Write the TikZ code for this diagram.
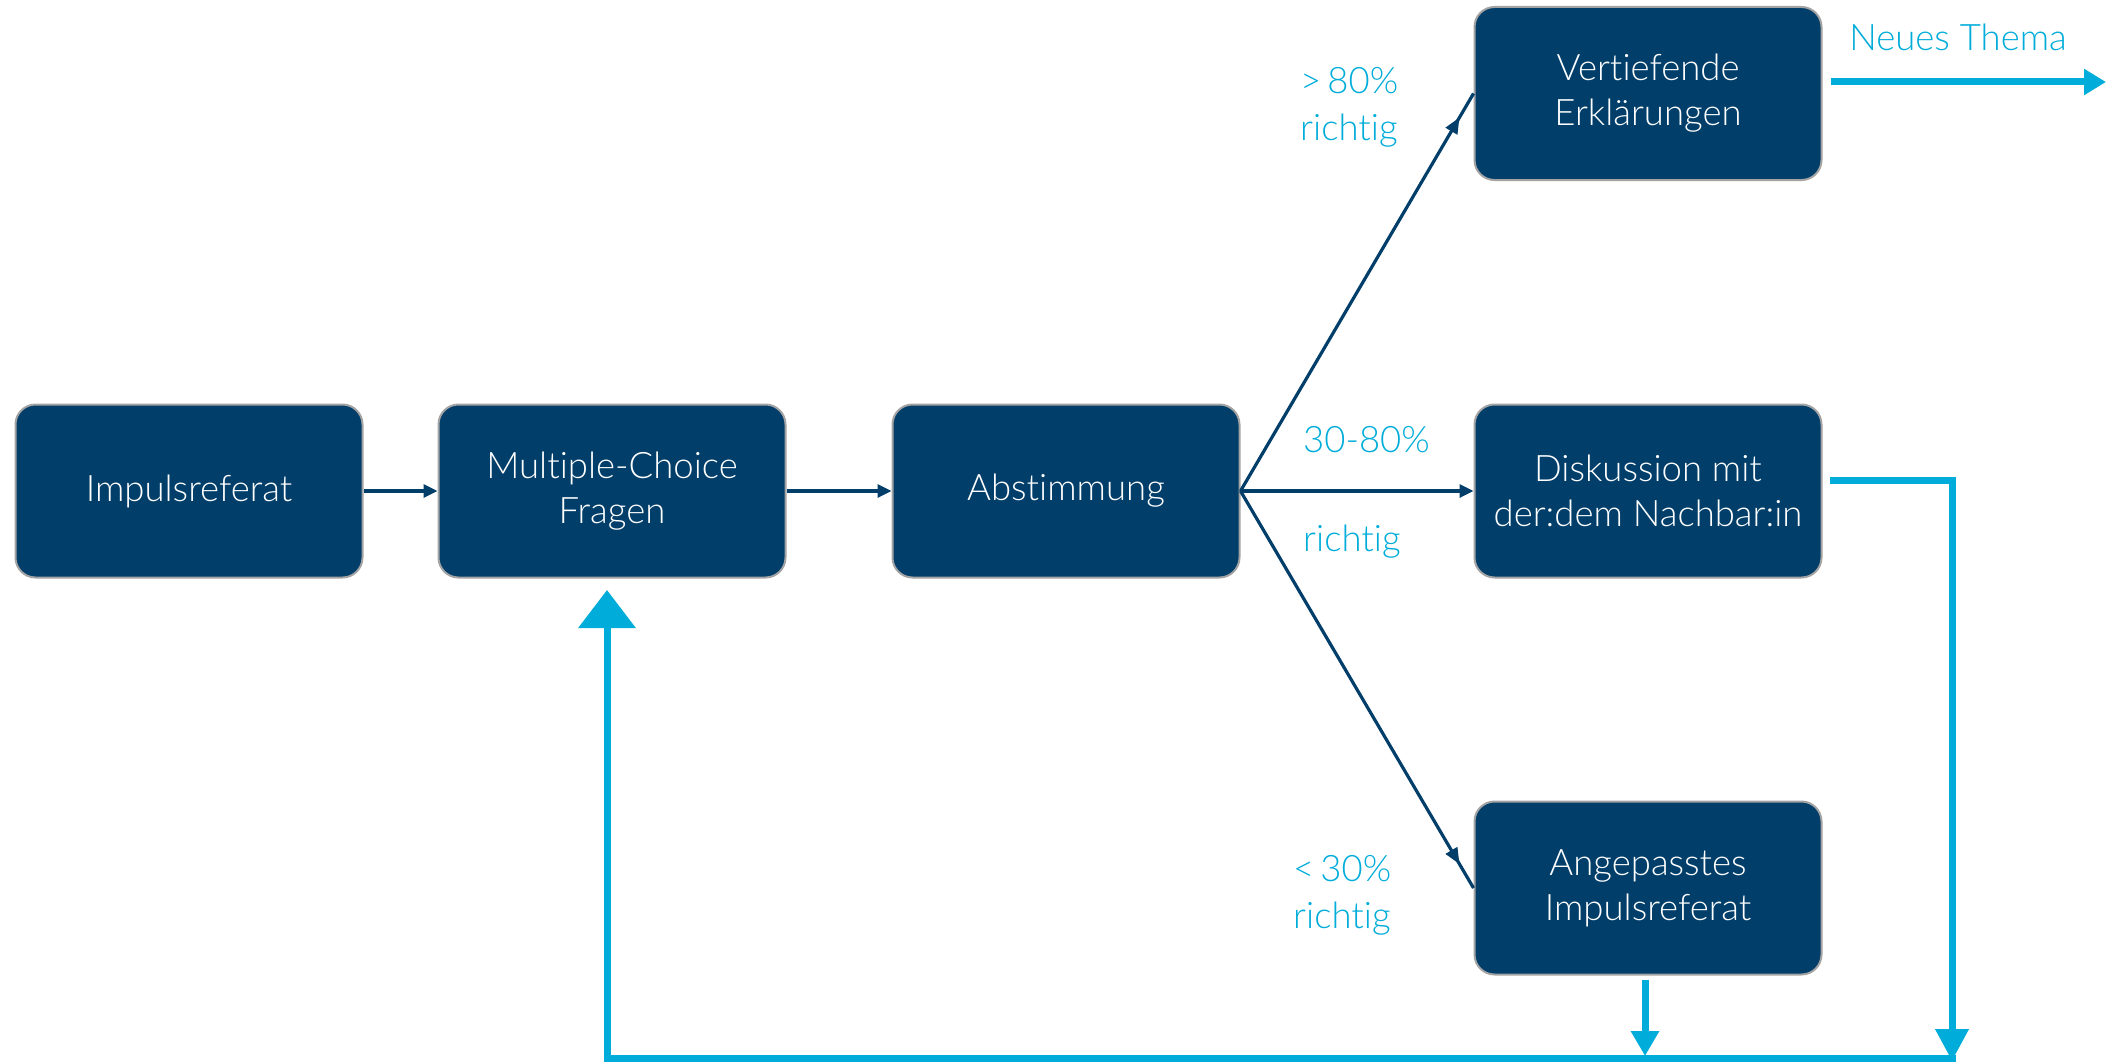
\documentclass[tikz,border=0pt]{standalone}
\usepackage{fontspec}
\setmainfont{Lato}[UprightFont=* Light, Ligatures=NoCommon]
\usetikzlibrary{arrows.meta,decorations.markings}
\definecolor{boxblue}{HTML}{013E6A}
\definecolor{cyanline}{HTML}{00ACD9}
\definecolor{boxborder}{HTML}{A3A3A3}
\tikzset{
  stepbox/.style={draw=boxborder, line width=2pt, fill=boxblue, rounded corners=20pt,
    minimum width=347pt, minimum height=173pt, text=white, align=center,
    font=\fontsize{36.5}{45}\selectfont, inner sep=0pt},
  lbl/.style={text=cyanline, align=left, anchor=west, font=\fontsize{36.5}{47}\selectfont, inner sep=0pt},
  darrow/.style={draw=boxblue, line width=3.2pt, -{Triangle[length=14pt,width=13pt]}},
  dline/.style={draw=boxblue, line width=3.2pt, postaction={decorate},
    decoration={markings, mark=at position 0.94 with {\arrow{Triangle[length=16pt,width=13pt]}}}},
  carrow/.style={draw=cyanline, line width=7pt},
}
\begin{document}
\begin{tikzpicture}[x=1pt,y=-1pt]
\useasboundingbox (0,0) rectangle (2106,1062);
\node[stepbox] (imp) at (189,491) {Impulsreferat};
\node[stepbox] (mc) at (612,491) {Multiple-Choice\\Fragen};
\node[stepbox] (abs) at (1066,491) {Abstimmung};
\node[stepbox] (ver) at (1648,93.5) {Vertiefende\\Erklärungen};
\node[stepbox] (dis) at (1648,491) {Diskussion mit\\der:dem Nachbar:in};
\node[stepbox] (ang) at (1648,888) {Angepasstes\\Impulsreferat};

\node[lbl] (l80) at (1300,107) {>\,80\%\\richtig};
\node[lbl] (l3080a) at (1303,440) {30-80\%};
\node[lbl] (l3080b) at (1303,542) {richtig};
\node[lbl] (l30) at (1293,895) {<\,30\%\\richtig};
\node[lbl, anchor=center] (neu) at (1958,37) {Neues Thema};

\draw[darrow] (imp.east) -- (mc.west);
\draw[darrow] (mc.east) -- (abs.west);
\draw[dline] (abs.east) -- (ver.west);
\draw[darrow] (abs.east) -- (dis.west);
\draw[dline] (abs.east) -- (ang.west);

\coordinate (tend) at (2106,82);
\draw[carrow, -{Triangle[length=22pt,width=25pt]}] (ver.east |- tend) ++(8,0) coordinate (tstart) -- (tend);

\coordinate (rcorner) at (1952,480);
\coordinate (rend) at (1952,1061);
\draw[carrow, -{Triangle[length=32pt,width=32pt]}] (1830,480) coordinate (dstart) -- (rcorner) -- (rend);

\coordinate (astart) at (1645,980);
\coordinate (aend) at (1645,1056);
\draw[carrow, -{Triangle[length=25pt,width=27pt]}] (astart) -- (aend);

\coordinate (bright) at (1955.5,1058.5);
\coordinate (bleft) at (607,1058.5);
\coordinate (bend) at (607,590);
\draw[carrow, -{Triangle[length=38pt,width=56pt]}] (bright) -- (bleft) -- (bend);
\end{tikzpicture}
\end{document}
